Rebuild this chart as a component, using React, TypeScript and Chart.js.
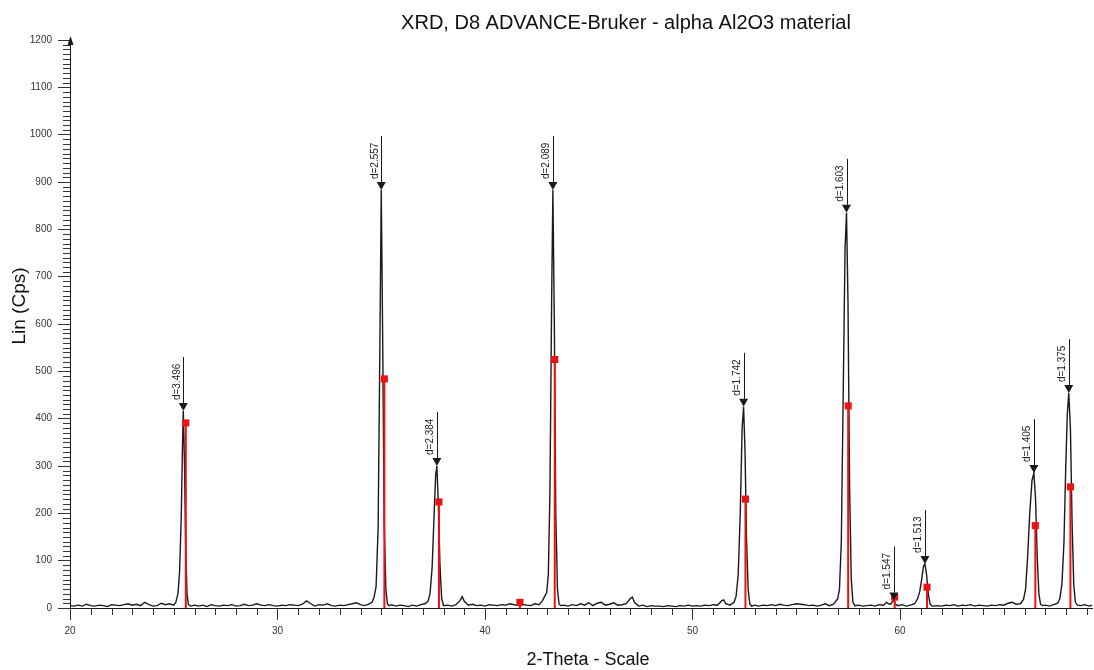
import React, { useEffect, useRef } from "react";
import { Chart, registerables } from "chart.js";

Chart.register(...registerables);

const FONT = '"Liberation Sans", Arial, Helvetica, sans-serif';

const chartTitle = "XRD, D8 ADVANCE-Bruker - alpha Al2O3 material";
const xAxisTitle = "2-Theta - Scale";
const yAxisTitle = "Lin (Cps)";

// Axis ranges and labelled ticks
const xRange = [20, 69.25];
const yRange = [0, 1200];
const xTickValues = [20, 30, 40, 50, 60];
const yTickValues = [0, 100, 200, 300, 400, 500, 600, 700, 800, 900, 1000, 1100, 1200];

// Measured scan: [2-theta (deg), intensity (cps)]
const scanPoints: [number, number][] = [
  [20.0, 5], [20.2, 4], [20.4, 6], [20.6, 4], [20.8, 8], [21.0, 5], [21.2, 4], [21.4, 6], [21.6, 5], [21.8, 3],
  [22.0, 7], [22.2, 6], [22.4, 5], [22.6, 7], [22.8, 9], [23.0, 6], [23.2, 8], [23.4, 5], [23.6, 12], [23.8, 7],
  [24.0, 4], [24.2, 5], [24.4, 10], [24.6, 7], [24.8, 9], [25.0, 6],
  [25.1, 12], [25.2, 30], [25.28, 75], [25.36, 190], [25.42, 340], [25.46, 416], [25.52, 300], [25.58, 120],
  [25.64, 30], [25.7, 8], [25.8, 4],
  [26.0, 6], [26.2, 4], [26.4, 6], [26.6, 3], [26.8, 7], [27.0, 5], [27.2, 4], [27.4, 6], [27.6, 5], [27.8, 7],
  [28.0, 4], [28.2, 5], [28.4, 8], [28.6, 5], [28.8, 6], [29.0, 9], [29.2, 6], [29.4, 5], [29.6, 7], [29.8, 5],
  [30.0, 4], [30.2, 6], [30.4, 5], [30.6, 7], [30.8, 6], [31.0, 5], [31.2, 8], [31.4, 15], [31.6, 9], [31.8, 4],
  [32.0, 7], [32.2, 6], [32.4, 9], [32.6, 5], [32.8, 4], [33.0, 6], [33.2, 5], [33.4, 7], [33.6, 9], [33.8, 11],
  [34.0, 7], [34.2, 5], [34.4, 8],
  [34.55, 12], [34.65, 22], [34.75, 45], [34.85, 170], [34.93, 540], [35.0, 883], [35.07, 560], [35.14, 180],
  [35.22, 40], [35.3, 8], [35.38, 5],
  [35.5, 7], [35.7, 4], [35.9, 6], [36.1, 5], [36.3, 3], [36.5, 6], [36.7, 4], [36.9, 7], [37.1, 9],
  [37.25, 14], [37.35, 30], [37.45, 85], [37.54, 190], [37.62, 280], [37.68, 300], [37.75, 220], [37.83, 90],
  [37.91, 20], [38.0, 5],
  [38.2, 6], [38.4, 4], [38.6, 7], [38.8, 16], [38.9, 24], [39.0, 14], [39.2, 6], [39.4, 8], [39.6, 5], [39.8, 6],
  [40.0, 4], [40.2, 7], [40.4, 6], [40.6, 5], [40.8, 7], [41.0, 6], [41.2, 9], [41.4, 7], [41.6, 6], [41.8, 8],
  [42.0, 6], [42.2, 5], [42.4, 9], [42.6, 7],
  [42.75, 14], [42.88, 25], [42.97, 32], [43.05, 70], [43.13, 250], [43.21, 650], [43.27, 883], [43.34, 600],
  [43.41, 200], [43.49, 40], [43.57, 8], [43.66, 5],
  [43.8, 6], [44.0, 4], [44.2, 7], [44.4, 5], [44.6, 9], [44.8, 6], [45.0, 11], [45.2, 5], [45.4, 10], [45.6, 12],
  [45.8, 6], [46.0, 8], [46.2, 11], [46.4, 6], [46.6, 7], [46.8, 9], [47.0, 20], [47.1, 23], [47.2, 12], [47.4, 4],
  [47.6, 6], [47.8, 3], [48.0, 5], [48.2, 4], [48.4, 4], [48.6, 3], [48.8, 5], [49.0, 4], [49.2, 3], [49.4, 5],
  [49.6, 4], [49.8, 6], [50.0, 4], [50.2, 5], [50.4, 4], [50.6, 6], [50.8, 5], [51.0, 7], [51.2, 6], [51.4, 15],
  [51.5, 17], [51.6, 9], [51.8, 6],
  [52.0, 12], [52.1, 25], [52.2, 70], [52.3, 200], [52.39, 380], [52.46, 425], [52.53, 330], [52.6, 150],
  [52.68, 40], [52.76, 8], [52.85, 4],
  [53.0, 6], [53.2, 4], [53.4, 6], [53.6, 5], [53.8, 7], [54.0, 5], [54.2, 8], [54.4, 6], [54.6, 5], [54.8, 7],
  [55.0, 9], [55.2, 8], [55.4, 7], [55.6, 5], [55.8, 6], [56.0, 4], [56.2, 6], [56.4, 9], [56.6, 5], [56.8, 8],
  [57.0, 20], [57.08, 40], [57.17, 140], [57.26, 450], [57.35, 760], [57.42, 835], [57.49, 650], [57.57, 250],
  [57.65, 60], [57.73, 12], [57.82, 5],
  [58.0, 6], [58.2, 4], [58.4, 5], [58.6, 6], [58.8, 4], [59.0, 7], [59.2, 6], [59.35, 12], [59.45, 9], [59.55, 8],
  [59.62, 13], [59.7, 16], [59.78, 8], [59.9, 5], [60.1, 7], [60.3, 4], [60.5, 6], [60.7, 9],
  [60.85, 20], [60.95, 35], [61.04, 60], [61.13, 88], [61.2, 93], [61.28, 70], [61.36, 30], [61.45, 8], [61.55, 4],
  [61.8, 5], [62.0, 4], [62.2, 6], [62.4, 5], [62.6, 7], [62.8, 4], [63.0, 6], [63.2, 5], [63.4, 7], [63.6, 4],
  [63.8, 6], [64.0, 5], [64.2, 4], [64.4, 6], [64.6, 5], [64.8, 7], [65.0, 6], [65.2, 10], [65.4, 12], [65.6, 8],
  [65.8, 9],
  [65.95, 18], [66.05, 40], [66.15, 110], [66.25, 200], [66.36, 270], [66.45, 285], [66.53, 230], [66.61, 110],
  [66.69, 30], [66.77, 8], [66.86, 5],
  [67.0, 6], [67.2, 4], [67.4, 7], [67.6, 10],
  [67.7, 20], [67.8, 50], [67.9, 140], [67.98, 290], [68.06, 410], [68.13, 454], [68.21, 380], [68.29, 180],
  [68.37, 50], [68.45, 12], [68.55, 6],
  [68.7, 5], [68.9, 7], [69.1, 4], [69.25, 6],
];

// Identified peaks (apex of the scan) and their d-spacing labels
const peakAngle = [25.46, 35.0, 37.68, 43.27, 52.46, 57.42, 59.7, 61.2, 66.45, 68.13];
const peakCps = [416, 883, 300, 883, 425, 835, 16, 93, 285, 454];
const peakLabel = [
  "d=3.496", "d=2.557", "d=2.384", "d=2.089", "d=1.742",
  "d=1.603", "d=1.547", "d=1.513", "d=1.405", "d=1.375",
];

// Reference pattern for corundum (stick positions and intensities)
const refAngle = [25.58, 35.15, 37.78, 41.68, 43.36, 52.55, 57.5, 59.74, 61.3, 66.52, 68.21];
const refCps = [391, 484, 224, 12, 525, 230, 427, 23, 44, 174, 256];

const INK = "#1a1a1a";
const TICK_INK = "#333333";
const REF_RED = "#ee1111";

// Reference sticks: each one rises from zero to its intensity, then a gap
const refSticks: { x: number; y: number | null }[] = [];
refAngle.forEach((a, i) => {
  refSticks.push({ x: a, y: 0 });
  refSticks.push({ x: a, y: refCps[i] });
  refSticks.push({ x: a, y: null });
});

const decorPlugin = {
  id: "xrdDecor",
  afterDatasetsDraw(chart: any) {
    const { ctx, scales } = chart;
    const xs = scales.x;
    const ys = scales.y;
    ctx.save();
    // peak markers: down-pointing triangle, leader line and rotated d-label
    peakAngle.forEach((a, i) => {
      const px = xs.getPixelForValue(a);
      const py = ys.getPixelForValue(peakCps[i]);
      const triH = 8;
      const triW = 9;
      const lead = 46;
      ctx.fillStyle = INK;
      ctx.beginPath();
      ctx.moveTo(px, py);
      ctx.lineTo(px - triW / 2, py - triH);
      ctx.lineTo(px + triW / 2, py - triH);
      ctx.closePath();
      ctx.fill();
      const lx = Math.round(px) + 0.5;
      ctx.strokeStyle = INK;
      ctx.lineWidth = 1;
      ctx.beginPath();
      ctx.moveTo(lx, py - triH);
      ctx.lineTo(lx, py - triH - lead);
      ctx.stroke();
      ctx.save();
      ctx.translate(px - 1.5, py - triH - 3);
      ctx.rotate(-Math.PI / 2);
      ctx.font = `10px ${FONT}`;
      ctx.fillStyle = "#222222";
      ctx.textAlign = "left";
      ctx.textBaseline = "bottom";
      ctx.fillText(peakLabel[i], 0, 0);
      ctx.restore();
    });
    ctx.restore();
  },
  afterDraw(chart: any) {
    const { ctx, scales, chartArea } = chart;
    const xs = scales.x;
    const ys = scales.y;
    ctx.save();
    ctx.strokeStyle = TICK_INK;
    ctx.lineWidth = 1;
    // minor ticks on the intensity axis every 10 cps
    ctx.beginPath();
    for (let v = yRange[0]; v <= yRange[1]; v += 10) {
      if (v % 100 === 0) continue;
      const y = Math.round(ys.getPixelForValue(v)) + 0.5;
      ctx.moveTo(chartArea.left - 7, y);
      ctx.lineTo(chartArea.left, y);
    }
    // minor ticks on the 2-theta axis every degree
    for (let v = Math.ceil(xRange[0]); v <= xRange[1]; v += 1) {
      if (v % 10 === 0) continue;
      const x = Math.round(xs.getPixelForValue(v)) + 0.5;
      ctx.moveTo(x, chartArea.bottom);
      ctx.lineTo(x, chartArea.bottom + 7);
    }
    ctx.stroke();
    // arrow head at the top of the intensity axis
    const ax = chartArea.left + 0.5;
    ctx.fillStyle = INK;
    ctx.beginPath();
    ctx.moveTo(ax, chartArea.top - 4);
    ctx.lineTo(ax - 3, chartArea.top + 5);
    ctx.lineTo(ax + 3, chartArea.top + 5);
    ctx.closePath();
    ctx.fill();

    // titles
    ctx.fillStyle = "#111111";
    ctx.textAlign = "center";
    ctx.textBaseline = "middle";
    ctx.font = `20px ${FONT}`;
    ctx.fillText(chartTitle, 626, 23);
    ctx.font = `18px ${FONT}`;
    ctx.fillText(xAxisTitle, 588, 660);
    ctx.save();
    ctx.translate(20, 306);
    ctx.rotate(-Math.PI / 2);
    ctx.font = `19px ${FONT}`;
    ctx.fillText(yAxisTitle, 0, 0);
    ctx.restore();
    ctx.restore();
  },
};

export default function App() {
  const canvasRef = useRef<HTMLCanvasElement | null>(null);

  useEffect(() => {
    const canvas = canvasRef.current;
    if (!canvas) return;
    const chart = new Chart(canvas, {
      type: "scatter",
      data: {
        datasets: [
          {
            label: "Reference",
            data: refSticks as any,
            showLine: true,
            spanGaps: false,
            borderColor: REF_RED,
            borderWidth: 2,
            backgroundColor: REF_RED,
            pointStyle: "rect",
            pointRadius: (c: any) => (c.raw && c.raw.y ? 5 : 0),
            pointBorderWidth: 0,
            order: 0,
          },
          {
            label: "Scan",
            data: scanPoints.map(([x, y]) => ({ x, y })),
            showLine: true,
            borderColor: INK,
            borderWidth: 1.4,
            pointRadius: 0,
            tension: 0,
            order: 1,
          },
        ],
      },
      options: {
        responsive: false,
        animation: false,
        events: [],
        layout: { padding: { top: 40, right: 2, left: 0, bottom: 0 } },
        plugins: {
          legend: { display: false },
          tooltip: { enabled: false },
          title: { display: false },
        },
        scales: {
          x: {
            type: "linear",
            min: xRange[0],
            max: xRange[1],
            afterBuildTicks: (s: any) => {
              s.ticks = xTickValues.map((v) => ({ value: v }));
            },
            afterFit: (s: any) => {
              s.height = 62;
            },
            ticks: {
              autoSkip: false,
              maxRotation: 0,
              padding: 5,
              color: TICK_INK,
              font: { family: FONT, size: 10 },
              callback: (v: any) => String(v),
            },
            grid: { drawOnChartArea: false, drawTicks: true, tickLength: 12, color: TICK_INK },
            border: { display: true, color: INK, width: 1 },
          },
          y: {
            type: "linear",
            min: yRange[0],
            max: yRange[1],
            afterBuildTicks: (s: any) => {
              s.ticks = yTickValues.map((v) => ({ value: v }));
            },
            afterFit: (s: any) => {
              s.width = 70;
            },
            ticks: {
              autoSkip: false,
              padding: 6,
              color: TICK_INK,
              font: { family: FONT, size: 10 },
              callback: (v: any) => String(v),
            },
            grid: { drawOnChartArea: false, drawTicks: true, tickLength: 12, color: TICK_INK },
            border: { display: true, color: INK, width: 1 },
          },
        },
      },
      plugins: [decorPlugin],
    });
    return () => chart.destroy();
  }, []);

  return (
    <div style={{ position: "fixed", left: 0, top: 0, width: 1094, height: 670, background: "#ffffff" }}>
      <canvas ref={canvasRef} width={1094} height={670} style={{ display: "block" }} />
    </div>
  );
}
